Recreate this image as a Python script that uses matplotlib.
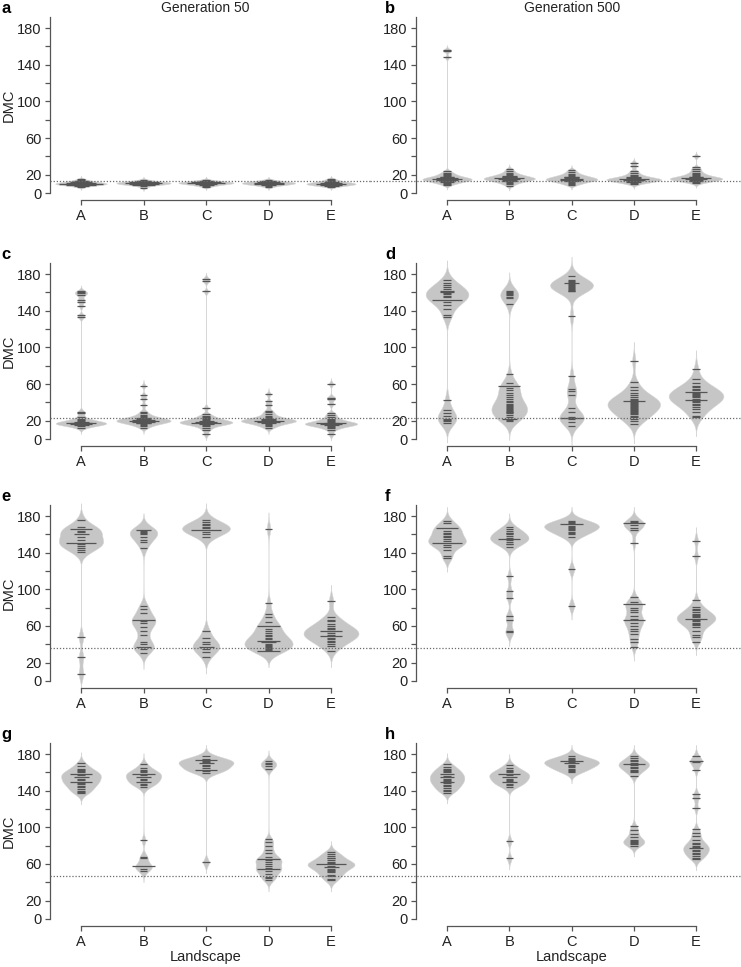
import numpy as np
import matplotlib.pyplot as plt
from matplotlib.transforms import blended_transform_factory

plt.rcParams['font.family'] = ['Liberation Sans', 'DejaVu Sans']

cats = ['A', 'B', 'C', 'D', 'E']
letters = ['a', 'b', 'c', 'd', 'e', 'f', 'g', 'h']
ref_line = [13.3, 13.3, 22.5, 22.5, 36.4, 36.4, 47.3, 47.3]   # dotted overall line
bw_panel = [1.3, 1.8, 2.2, 7, 6, 5, 4, 4]                        # smoothing bandwidth

# DMC of the replicate populations, one list per landscape A-E
dmc_a = [
    [7, 8, 8, 9, 9, 9, 9, 10, 10, 10, 10, 10, 10, 11, 11, 11, 11, 12, 12, 12, 13, 13, 14, 15],
    [6, 8, 9, 9, 9, 10, 10, 10, 10, 11, 11, 11, 11, 11, 12, 12, 12, 12, 13, 13, 14],
    [7, 8, 9, 9, 10, 10, 10, 11, 11, 11, 11, 11, 12, 12, 12, 12, 13, 13, 14],
    [7, 8, 9, 9, 10, 10, 10, 10, 11, 11, 11, 11, 12, 12, 12, 13, 13, 14],
    [7, 8, 8, 9, 9, 9, 10, 10, 10, 10, 11, 11, 11, 12, 12, 13, 14, 15],
]
dmc_b = [
    [9, 10, 11, 12, 12, 13, 13, 14, 14, 14, 15, 15, 15, 15, 16, 16, 16, 17, 17, 18, 18, 19, 20, 21, 22, 24, 148, 155, 156],
    [8, 10, 11, 12, 13, 13, 14, 14, 15, 15, 15, 16, 16, 16, 16, 17, 17, 18, 18, 19, 19, 20, 21, 22, 24, 26],
    [9, 10, 11, 12, 13, 13, 14, 14, 14, 15, 15, 15, 16, 16, 17, 17, 18, 18, 19, 20, 21, 23, 25],
    [10, 11, 12, 12, 13, 13, 14, 14, 14, 15, 15, 15, 15, 16, 16, 17, 17, 18, 19, 20, 22, 24, 29, 33],
    [11, 12, 13, 13, 14, 14, 15, 15, 15, 16, 16, 16, 16, 17, 17, 18, 18, 19, 20, 21, 22, 24, 26, 28, 40],
]
dmc_c = [
    [12, 14, 15, 15, 16, 16, 16, 17, 17, 17, 17, 18, 18, 18, 19, 19, 20, 21, 22, 24, 28, 30,
     133, 135, 145, 150, 152, 157, 159, 160, 161],
    [12, 14, 15, 16, 17, 17, 18, 18, 19, 19, 19, 20, 20, 20, 20, 21, 21, 21, 22, 22, 23, 23, 24, 25, 26, 28, 30, 37, 44, 48, 58],
    [5, 10, 12, 14, 15, 16, 16, 17, 17, 18, 18, 18, 18, 19, 19, 19, 20, 20, 21, 22, 23, 24, 25, 27, 34, 161, 172, 175],
    [12, 14, 15, 16, 17, 18, 18, 19, 19, 19, 20, 20, 20, 20, 21, 21, 22, 22, 23, 24, 25, 27, 29, 31, 37, 41, 49],
    [5, 10, 12, 13, 14, 15, 15, 16, 16, 16, 17, 17, 17, 17, 18, 18, 19, 20, 21, 22, 24, 26, 28, 38, 44, 45, 60],
]
dmc_d = [
    [17, 20, 21, 22, 25, 28, 32, 43,
     133, 135, 142, 146, 150, 152, 152, 152, 152, 155, 156, 158, 159, 160, 160, 162, 162, 164, 166, 168, 170, 174],
    [20, 21, 22, 22, 24, 26, 28, 29, 30, 31, 32, 33, 34, 35, 36, 37, 38, 40, 42, 44, 46, 48, 50, 53, 56, 58, 58, 58, 61, 71,
     147, 154, 155, 157, 158, 159, 160, 161],
    [14, 19, 22, 23, 23, 23, 24, 30, 34, 48, 52, 55, 69, 134,
     161, 162, 163, 164, 165, 166, 167, 168, 169, 170, 170, 171, 172, 173, 178],
    [16, 20, 22, 24, 25, 27, 28, 30, 31, 32, 33, 34, 35, 36, 37, 38, 39, 40, 41, 42, 42, 42, 43, 44, 46, 48, 50, 53, 57, 62, 85],
    [24, 25, 30, 33, 35, 37, 38, 40, 42, 43, 43, 43, 44, 46, 47, 48, 49, 50, 51, 51, 51, 53, 55, 57, 58, 61, 65, 76],
]
dmc_e = [
    [8, 26, 48,
     141, 143, 145, 147, 150, 151, 151, 151, 151, 154, 157, 160, 160, 163, 164, 166, 166, 166, 168, 176],
    [31, 35, 37, 37, 40, 42, 50, 55, 59, 63, 65, 67, 67, 67, 74, 78, 82,
     145, 152, 154, 157, 160, 162, 163, 164, 165, 165],
    [26, 32, 35, 37, 37, 40, 43, 47, 55,
     157, 160, 163, 165, 165, 165, 165, 167, 168, 170, 171, 173, 176],
    [33, 33, 33, 34, 35, 36, 37, 38, 39, 40, 42, 42, 44, 44, 44, 46, 47, 49, 50, 52, 54, 57, 60, 60, 60, 64, 70, 73, 85, 166],
    [33, 38, 40, 42, 44, 46, 47, 49, 49, 49, 50, 52, 54, 55, 55, 55, 57, 58, 60, 62, 65, 67, 70, 87],
]
dmc_f = [
    [134, 136, 143, 146, 148, 151, 151, 151, 151, 153, 155, 157, 158, 160, 162, 164, 167, 167, 167, 172, 175],
    [53, 54, 67, 71, 91, 98, 114,
     146, 149, 150, 152, 154, 155, 155, 155, 156, 158, 160, 161, 162, 164, 166, 168],
    [82, 122, 157, 160, 161, 163, 165, 166, 167, 168, 169, 171, 171, 171, 172, 173, 175],
    [37, 42, 46, 51, 54, 57, 60, 63, 66, 66, 66, 68, 71, 75, 77, 80, 84, 84, 84, 86, 92,
     151, 165, 167, 170, 172, 172, 172, 173, 175],
    [43, 48, 50, 55, 59, 61, 62, 63, 65, 67, 68, 68, 68, 70, 71, 72, 73, 75, 77, 79, 81, 88, 136, 153],
]
dmc_g = [
    [137, 139, 140, 142, 144, 145, 147, 148, 150, 150, 150, 152, 153, 155, 155, 157, 158, 158, 158, 160, 161, 163, 164, 167, 170],
    [52, 55, 58, 58, 58, 66, 68, 86,
     144, 146, 147, 149, 150, 150, 152, 153, 155, 155, 157, 158, 158, 158, 160, 161, 163, 165, 169],
    [62, 159, 161, 163, 163, 163, 165, 167, 168, 170, 170, 171, 172, 173, 173, 173, 175, 178],
    [42, 45, 46, 49, 52, 54, 54, 54, 56, 58, 60, 62, 64, 65, 65, 65, 68, 72, 75, 80, 84, 87,
     164, 167, 169, 170, 172],
    [42, 44, 47, 48, 51, 52, 53, 55, 57, 57, 58, 60, 60, 60, 60, 61, 62, 64, 66, 67, 69, 71, 73],
]
dmc_h = [
    [138, 140, 141, 143, 145, 146, 148, 149, 149, 151, 152, 153, 155, 155, 156, 158, 158, 160, 161, 163, 164, 166, 169],
    [66, 85, 144, 146, 147, 149, 149, 151, 152, 153, 155, 155, 157, 158, 158, 158, 160, 161, 163, 165, 168],
    [160, 162, 163, 164, 166, 167, 168, 170, 170, 171, 172, 172, 172, 173, 175, 176, 178],
    [80, 82, 83, 84, 85, 86, 89, 93, 97, 101,
     156, 160, 162, 163, 165, 166, 168, 169, 169, 169, 170, 172, 174, 176, 178],
    [65, 67, 69, 71, 72, 74, 75, 77, 77, 79, 80, 82, 83, 86, 90, 94, 98,
     121, 132, 136, 163, 171, 172, 172, 178],
]
panels = [dmc_a, dmc_b, dmc_c, dmc_d, dmc_e, dmc_f, dmc_g, dmc_h]


def kde(vals, bw):
    v = np.asarray(vals, float)
    y = np.linspace(v.min() - 3 * bw, v.max() + 3 * bw, 800)
    d = np.exp(-0.5 * ((y[:, None] - v[None, :]) / bw) ** 2).sum(1)
    return y, d / (len(v) * bw * np.sqrt(2 * np.pi))


W, H = 741, 967
fig = plt.figure(figsize=(W / 100, H / 100), dpi=100)
k = 165 / 180.0                      # pixels per DMC unit
ylim = (-7.7, 199.7)
row_y0 = [193, 439, 681, 919]        # pixel row of DMC = 0
col_x = [(49.75, 312.5), (415.9, 311.25)]
txt = '#222222'

for i, data in enumerate(panels):
    r, c = divmod(i, 2)
    left, width = col_x[c]
    top = row_y0[r] - ylim[1] * k
    bottom = row_y0[r] - ylim[0] * k
    ax = fig.add_axes([left / W, 1 - bottom / H, width / W, (bottom - top) / H])
    ax.set_xlim(0.5, 5.5)
    ax.set_ylim(*ylim)

    dens = [kde(v, bw_panel[i]) for v in data]
    scale = 0.44 / max(d.max() for _, d in dens)
    for j, (v, (yy, d)) in enumerate(zip(data, dens)):
        x = j + 1
        w = d * scale
        ax.fill_betweenx(yy, x - w, x + w, facecolor='#c6c6c6',
                         edgecolor='#d6d6d6', lw=0.35, zorder=1)
        u, cnt = np.unique(v, return_counts=True)
        ax.hlines(u, x - 0.06 * cnt, x + 0.06 * cnt, color='#555555', lw=0.9, zorder=2)

    # dotted overall line runs across the figure region
    x0 = left / W if c == 0 else 370 / W
    x1 = 370 / W if c == 0 else 1.0
    tr = blended_transform_factory(fig.transFigure, ax.transData)
    ax.plot([x0, x1], [ref_line[i]] * 2, transform=tr, ls=(0, (1, 1.5)),
            color='#6a6a6a', lw=0.9, clip_on=False, zorder=3)

    for s in ['top', 'right']:
        ax.spines[s].set_visible(False)
    for s in ['left', 'bottom']:
        ax.spines[s].set_color('#555555')
        ax.spines[s].set_linewidth(0.9)
    ax.spines['left'].set_bounds(0, 192)
    ax.spines['bottom'].set_bounds(1, 5)
    ax.set_yticks(range(0, 181, 20))
    ax.set_yticklabels(['0', '20', '', '60', '', '100', '', '140', '', '180'])
    ax.set_xticks(range(1, 6))
    ax.set_xticklabels(cats)
    ax.tick_params(direction='out', length=3.6, width=0.9, color='#555555',
                   labelsize=10.5, labelcolor=txt, pad=2.5)

    lx = 1 if c == 0 else 385
    fig.text(lx / W, 1 - (top - 1) / H, letters[i], fontsize=12,
             fontweight='bold', va='center', ha='left')
    if c == 0:
        ax.set_ylabel('DMC', fontsize=10.5, color=txt)
        ax.yaxis.set_label_coords(-0.108, 0.5)
    if r == 3:
        ax.set_xlabel('Landscape', fontsize=10.5, color=txt, labelpad=1)

fig.text(205 / W, 1 - 8 / H, 'Generation 50', fontsize=10, color=txt, ha='center', va='center')
fig.text(572 / W, 1 - 8 / H, 'Generation 500', fontsize=10, color=txt, ha='center', va='center')

fig.savefig('out.png', dpi=100)
